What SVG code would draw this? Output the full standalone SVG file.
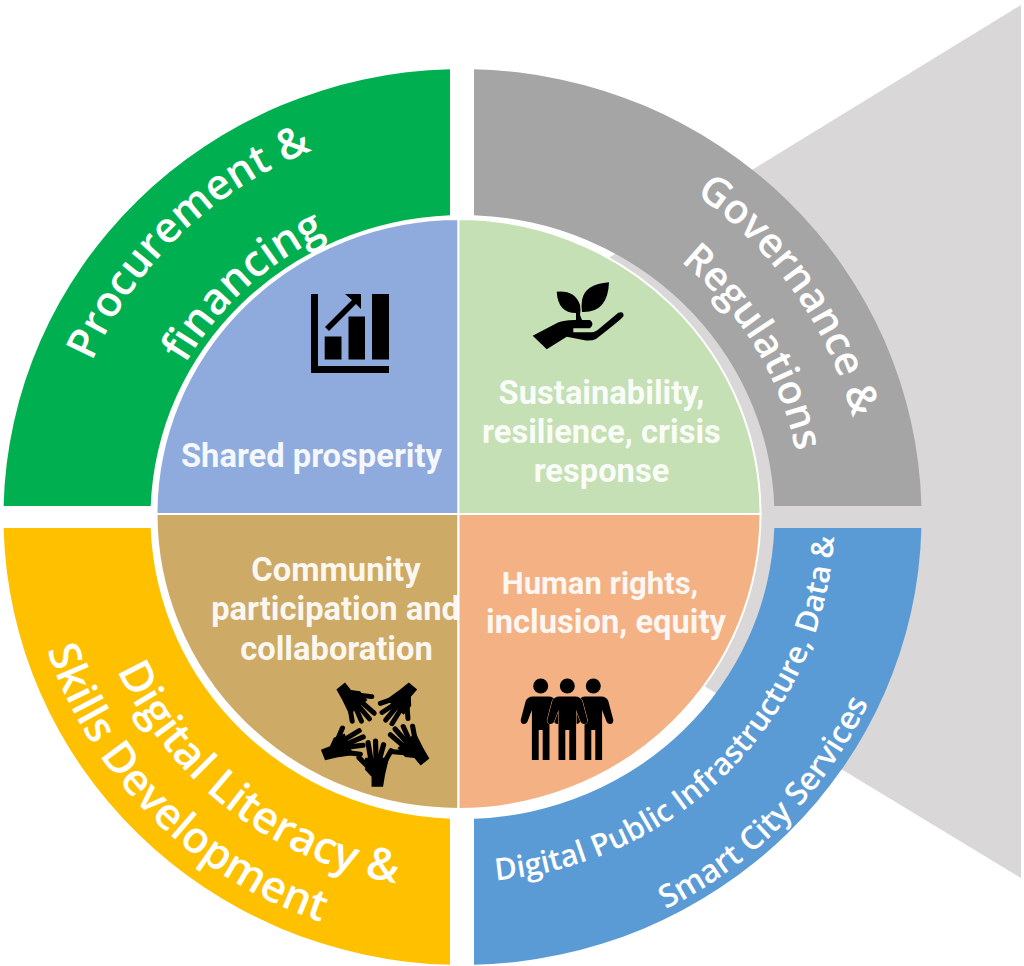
<svg xmlns="http://www.w3.org/2000/svg" width="1024" height="966" viewBox="0 0 1024 966">
<style>
.ring{font-family:"Open Sans","Lato",sans-serif;fill:#fff;font-weight:600}
.lbl{font-family:"Roboto","Liberation Sans",sans-serif;font-weight:700;font-size:32.7px;fill:#fff;fill-opacity:.92;text-anchor:middle}
.ic{fill:#000}
</style>
<defs>
<path id="pT395" d="M59.5,517 A403,395 0 0 1 865.5,517"/>
<path id="pT333" d="M122.5,517 A340,333 0 0 1 802.5,517"/>
<path id="pT312" d="M144.5,517 A318,312 0 0 1 780.5,517"/>
<path id="pB372" d="M83.5,517 A379,372 0 0 0 841.5,517"/>
<path id="pB428" d="M25.5,517 A437,428 0 0 0 899.5,517"/>
<path id="pB365" d="M90.5,517 A372,365 0 0 0 834.5,517"/>
<path id="pB440" d="M14.5,517 A448,440 0 0 0 910.5,517"/>
<g id="hand">
<path d="M-10,33 L14,33 L10,50 L8,62 L-3.5,62 L-3.5,52 L-10,45 Z"/>
<g fill="none" stroke="#000" stroke-width="5.2" stroke-linecap="round">
<path d="M-16,33 L-5,44"/><path d="M-7,18 L-4,36"/><path d="M0.5,16.5 L1,36"/><path d="M8.5,20 L4,36"/><path d="M16,26 L8,40"/>
</g>
</g>
<path id="person" d="M-8,10.5 L8,10.5 Q13,10.5 15,15 L20,34 Q20,38 17,38 Q14,38 13,35 L8.8,24 L8.8,74 L2,74 L2,44 L-2,44 L-2,74 L-8.8,74 L-8.8,24 L-13,35 Q-14,38 -17,38 Q-20,38 -20,34 L-15,15 Q-13,10.5 -8,10.5Z"/>
</defs>
<polygon id="backdrop" fill="#d9d7d8" points="1021,5 1021,878 305,444"/>
<g id="ring-procurement"><path fill="#00b050" d="M450,69.2 A459,448 0 0 0 3.6,506 L150.7,506 A312,302 0 0 1 450,215.2Z"/></g>
<g id="ring-governance"><path fill="#a5a5a5" d="M474,69.2 A459,448 0 0 1 921.4,506 L774.3,506 A312,302 0 0 0 474,215.2Z"/></g>
<g id="ring-literacy"><path fill="#ffc000" d="M3.6,528 A459,448 0 0 0 450,964.8 L450,818.8 A312,302 0 0 1 150.7,528Z"/></g>
<g id="ring-infrastructure"><path fill="#5b9bd5" d="M921.4,528 A459,448 0 0 1 474,964.8 L474,818.8 A312,302 0 0 0 774.3,528Z"/></g>
<g id="pie" stroke="#fff" stroke-width="2">
<path fill="#8faadc" d="M458.5,514 L156.5,514 A302,295 0 0 1 458.5,219Z"/>
<path fill="#c5e0b4" d="M458.5,514 L458.5,219 A302,295 0 0 1 760.5,514Z"/>
<path fill="#cdaa66" d="M458.5,514 L156.5,514 A302,295 0 0 0 458.5,809Z"/>
<path fill="#f4b183" d="M458.5,514 L760.5,514 A302,295 0 0 1 458.5,809Z"/>
</g>
<g id="node-prosperity">
<path class="ic" d="M311,294H318V366H389V373H311Z M324.7,336.5H341.5V359.5H324.7Z M348.5,316.5H365V359.5H348.5Z M372,294H389V359.5H372Z M345,294H361V309L356,304L329,331L325,327L352,300Z"/>
<text class="lbl" x="311.5" y="467">Shared prosperity</text>
</g>
<g id="node-sustainability">
<path class="ic" d="M556.7,291.7 Q575,290 580,305 Q581,310 580,315 L582,320 L576,320 L576,313 Q558,313 556.7,291.7Z M609,282.3 Q585,284 582,300 Q581,306 582,312 Q608,313 609,282.3Z"/>
<path class="ic" d="M532.7,335.7 L558,322.5 Q564,320 574,320 L590,320 Q595,324 590,328.3 L573.3,328.3 L573.3,332.3 L592,332.3 Q595,332.3 600,328 L618.3,312.8 Q624,311 623.5,316 Q623,318 596,339 Q592,341 586,340.5 L566.7,336.7 L546.7,349.3Z"/>
<text class="lbl" x="601.5" y="404">Sustainability,</text>
<text class="lbl" x="601.5" y="443">resilience, crisis</text>
<text class="lbl" x="601.5" y="482">response</text>
</g>
<g id="node-community">
<text class="lbl" x="336" y="581">Community</text>
<text class="lbl" x="335.5" y="620">participation and</text>
<text class="lbl" x="336.5" y="660">collaboration</text>
<g class="ic">
<use href="#hand" transform="translate(377.3,786.7) translate(-2.25,-62)"/>
<use href="#hand" transform="translate(340.7,686) rotate(141) scale(.96) translate(-2.25,-62)"/>
<use href="#hand" transform="translate(413,686) rotate(-139) scale(.96) translate(-2.25,-62)"/>
<use href="#hand" transform="translate(323,755) rotate(68) scale(.97) translate(-2.25,-62)"/>
<use href="#hand" transform="translate(425,762) rotate(-40) scale(.98) translate(-2.25,-62)"/>
</g>
</g>
<g id="node-rights">
<text class="lbl" x="600" y="594" style="font-size:31px">Human rights,</text>
<text class="lbl" x="606" y="633">inclusion, equity</text>
<g class="ic">
<circle cx="540.7" cy="686" r="7.5"/><circle cx="567.3" cy="686" r="7.5"/><circle cx="593.3" cy="686" r="7.5"/>
<use href="#person" x="540.7" y="686"/>
<use href="#person" x="593.3" y="686"/>
<use href="#person" x="567.3" y="686" stroke="#f4b183" stroke-width="1" paint-order="stroke"/>
</g>
</g>
<g id="labels-ring">
<text class="ring" font-size="42.5"><textPath href="#pT395" startOffset="160">Procurement &amp;</textPath></text>
<text class="ring" font-size="43.5"><textPath href="#pT312" startOffset="160">financing</textPath></text>
<text class="ring" font-size="41"><textPath href="#pT395" startOffset="874">Governance &amp;</textPath></text>
<text class="ring" font-size="40"><textPath href="#pT333" startOffset="764">Regulations</textPath></text>
<text class="ring" font-size="44.5"><textPath href="#pB372" startOffset="158">Digital Literacy &amp;</textPath></text>
<text class="ring" font-size="43.5"><textPath href="#pB428" startOffset="135">Skills Development</textPath></text>
<text class="ring" font-size="30.6"><textPath href="#pB365" startOffset="612">Digital Public Infrastructure, Data &amp;</textPath></text>
<text class="ring" font-size="32"><textPath href="#pB440" startOffset="908">Smart City Services</textPath></text>
</g>
</svg>
